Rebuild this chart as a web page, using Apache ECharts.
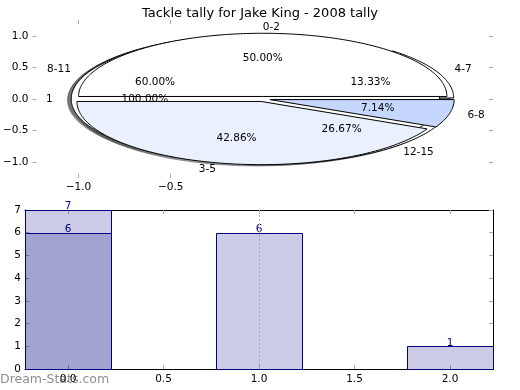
<!DOCTYPE html>
<html><head><meta charset="utf-8">
<script src="https://cdn.jsdelivr.net/npm/echarts@6/dist/echarts.min.js"></script>
<style>html,body{margin:0;padding:0;background:#fff}#c{width:520px;height:390px}</style>
</head><body><div id="c"></div>
<script>
// ---------- data ----------
const chartTitle = 'Tackle tally for Jake King - 2008 tally';
const watermark = 'Dream-Stats.com';
const pieALabels = ['1'];
const pieAValues = [1];
const pieCLabels = ['4-7', '8-11', '12-15'];
const pieCValues = [2, 9, 4];
const pieBLabels = ['0-2', '3-5', '6-8'];
const pieBValues = [7, 6, 1];
const pieXTicks = [-1.0, -0.5];
const pieYTicks = [-1.0, -0.5, 0.0, 0.5, 1.0];
const barX = [0, 1, 2];
const barTally = [7, 6, 1];
const barX2 = [0];
const barTally2 = [6];
const barXTicks = [0, 0.5, 1.0, 1.5, 2.0];
const barYTicks = [0, 1, 2, 3, 4, 5, 6, 7];
const markX = [1.0];

// ---------- style ----------
const FONT = 'DejaVu Sans';
const FS = 10.5;
const pieAColors = ['#FFFFFF'];
const pieCColors = ['#FFFFFF', '#FFFFFF', '#FFFFFF'];
const pieBColors = ['#FFFFFF', '#EAF0FE', '#C5D7FC'];
const EXPLODE = 0.04, R = 1, PCTD = 0.6, LABD = 1.1, SHX = -0.02, SHY = -0.02;
const BAR_HALF = 0.225;

function buildPie(labels, values, colors) {
  const tot = values.reduce((a, b) => a + b, 0);
  let t = 0;
  return values.map((v, i) => {
    const t1 = t, t2 = t + 360 * v / tot; t = t2;
    const tm = (t1 + t2) / 2 * Math.PI / 180;
    return { t1, t2, tm, full: Math.abs(t2 - t1 - 360) < 1e-9,
      cx: EXPLODE * Math.cos(tm), cy: EXPLODE * Math.sin(tm),
      label: labels[i], pct: (100 * v / tot).toFixed(2) + '%', color: colors[i] };
  });
}
const wedges = [].concat(
  buildPie(pieCLabels, pieCValues, pieCColors),
  buildPie(pieALabels, pieAValues, pieAColors),
  buildPie(pieBLabels, pieBValues, pieBColors)
);
function wedgePts(api, w, dx, dy) {
  const pts = [];
  if (!w.full) pts.push(api.coord([w.cx + dx, w.cy + dy]));
  const n = Math.max(4, Math.ceil(w.t2 - w.t1));
  for (let k = 0; k <= n; k++) {
    const a = (w.t1 + (w.t2 - w.t1) * k / n) * Math.PI / 180;
    pts.push(api.coord([w.cx + dx + R * Math.cos(a), w.cy + dy + R * Math.sin(a)]));
  }
  return pts;
}
function shadowColor(hex, a) {
  const r = parseInt(hex.substr(1, 2), 16), g = parseInt(hex.substr(3, 2), 16), b = parseInt(hex.substr(5, 2), 16);
  return 'rgba(' + Math.round(r * 0.3) + ',' + Math.round(g * 0.3) + ',' + Math.round(b * 0.3) + ',' + a + ')';
}
const minus = v => String(v.toFixed(1)).replace('-', '\u2212');
const wedgeData = wedges.map(w => [w.cx, w.cy]);

const tickStyle = { inside: true, length: 4, lineStyle: { color: '#a8a8a8', width: 1 } };
const labelStyle = { color: '#000', fontSize: FS, fontFamily: FONT };
const hiddenLine = { show: false, onZero: false };
const frameLine = { show: true, onZero: false, lineStyle: { color: '#000', width: 1 } };

const chart = echarts.init(document.getElementById('c'), null, { renderer: 'canvas' });
chart.setOption({
  animation: false,
  backgroundColor: '#fff',
  title: { text: chartTitle, left: 'center', top: 2,
    textStyle: { fontSize: 13, fontWeight: 'normal', fontFamily: FONT, color: '#000' } },
  graphic: [{ type: 'text', left: 0, top: 373, z: 0,
    style: { text: watermark, fill: '#8f8f8f', font: '12.5px "DejaVu Sans"' } }],
  grid: [
    { left: 25, right: 27, top: 20, bottom: 212 },
    { left: 25, right: 27, top: 210, bottom: 21 }
  ],
  xAxis: [
    { gridIndex: 0, type: 'value', min: -1.25, max: 1.25, position: 'bottom',
      axisLine: hiddenLine, splitLine: { show: false },
      axisTick: Object.assign({ customValues: pieXTicks }, tickStyle),
      axisLabel: Object.assign({ customValues: pieXTicks, margin: 4, formatter: minus }, labelStyle) },
    { gridIndex: 0, type: 'value', min: -1.25, max: 1.25, position: 'top',
      axisLine: hiddenLine, splitLine: { show: false },
      axisTick: Object.assign({ customValues: pieXTicks }, tickStyle),
      axisLabel: { show: false } },
    { gridIndex: 1, type: 'value', min: -0.225, max: 2.225, position: 'bottom',
      axisLine: frameLine, splitLine: { show: false },
      axisTick: Object.assign({ customValues: barXTicks }, tickStyle),
      axisLabel: Object.assign({ customValues: barXTicks, margin: 5, formatter: v => v.toFixed(1) }, labelStyle) },
    { gridIndex: 1, type: 'value', min: -0.225, max: 2.225, position: 'top',
      axisLine: frameLine, splitLine: { show: false },
      axisTick: Object.assign({ customValues: barXTicks }, tickStyle),
      axisLabel: { show: false } }
  ],
  yAxis: [
    { gridIndex: 0, type: 'value', min: -1.25, max: 1.25, position: 'left',
      axisLine: hiddenLine, splitLine: { show: false },
      axisTick: Object.assign({ customValues: pieYTicks }, tickStyle),
      axisLabel: Object.assign({ customValues: pieYTicks, margin: 4, formatter: minus }, labelStyle) },
    { gridIndex: 0, type: 'value', min: -1.25, max: 1.25, position: 'right',
      axisLine: hiddenLine, splitLine: { show: false },
      axisTick: Object.assign({ customValues: pieYTicks }, tickStyle),
      axisLabel: { show: false } },
    { gridIndex: 1, type: 'value', min: 0, max: 7, position: 'left',
      axisLine: frameLine, splitLine: { show: false },
      axisTick: Object.assign({ customValues: barYTicks }, tickStyle),
      axisLabel: Object.assign({ customValues: barYTicks, margin: 4 }, labelStyle) },
    { gridIndex: 1, type: 'value', min: 0, max: 7, position: 'right',
      axisLine: frameLine, splitLine: { show: false },
      axisTick: Object.assign({ customValues: barYTicks }, tickStyle),
      axisLabel: { show: false } }
  ],
  series: [
    { type: 'custom', name: 'shadows', xAxisIndex: 0, yAxisIndex: 0, z: 2, silent: true,
      data: wedgeData,
      renderItem: (params, api) => {
        const w = wedges[params.dataIndex];
        return { type: 'polygon', shape: { points: wedgePts(api, w, SHX, SHY) },
          style: { fill: shadowColor(w.color, 0.5), stroke: shadowColor(w.color, 0.5), lineWidth: 1 } };
      } },
    { type: 'custom', name: 'wedges', xAxisIndex: 0, yAxisIndex: 0, z: 3, silent: true,
      data: wedgeData,
      renderItem: (params, api) => {
        const w = wedges[params.dataIndex];
        return { type: 'polygon', shape: { points: wedgePts(api, w, 0, 0) },
          style: { fill: w.color, stroke: '#000', lineWidth: 1 } };
      } },
    { type: 'custom', name: 'pielabels', xAxisIndex: 0, yAxisIndex: 0, z: 4, silent: true,
      data: wedgeData,
      renderItem: (params, api) => {
        const w = wedges[params.dataIndex];
        const cx = Math.cos(w.tm), sy = Math.sin(w.tm);
        const lp = api.coord([w.cx + LABD * R * cx, w.cy + LABD * R * sy]);
        const pp = api.coord([w.cx + PCTD * R * cx, w.cy + PCTD * R * sy]);
        return { type: 'group', children: [
          { type: 'text', x: lp[0], y: lp[1], style: { text: w.label, fill: '#000', fontSize: FS, fontFamily: FONT,
            textAlign: cx > 0 ? 'left' : 'right', textVerticalAlign: 'middle' } },
          { type: 'text', x: pp[0], y: pp[1], style: { text: w.pct, fill: '#000', fontSize: FS, fontFamily: FONT,
            textAlign: 'center', textVerticalAlign: 'middle' } }
        ] };
      } },
    { type: 'custom', name: 'tally', xAxisIndex: 2, yAxisIndex: 2, z: 3, silent: true,
      data: barX.map((x, i) => [x, barTally[i]]),
      renderItem: (params, api) => {
        const x = api.value(0), v = api.value(1);
        const p1 = api.coord([x - BAR_HALF, v]), p2 = api.coord([x + BAR_HALF, 0]);
        return { type: 'group', children: [
          { type: 'rect', shape: { x: Math.round(p1[0]) + 0.5, y: Math.round(p1[1]) + 0.5, width: Math.round(p2[0] - p1[0]), height: Math.round(p2[1] - p1[1]) },
            style: { fill: 'rgba(0,0,128,0.2)', stroke: '#000080', lineWidth: 1 } },
          { type: 'text', x: (p1[0] + p2[0]) / 2, y: p1[1] + 2, style: { text: String(v), fill: '#000080', fontSize: FS, fontFamily: FONT,
            textAlign: 'center', textVerticalAlign: 'bottom' } }
        ] };
      },
      markLine: { silent: true, symbol: 'none', label: { show: false },
        lineStyle: { color: '#aaaaaa', type: [2, 2], width: 1 },
        data: markX.map(x => ({ xAxis: x })) } },
    { type: 'custom', name: 'tally2', xAxisIndex: 2, yAxisIndex: 2, z: 4, silent: true,
      data: barX2.map((x, i) => [x, barTally2[i]]),
      renderItem: (params, api) => {
        const x = api.value(0), v = api.value(1);
        const p1 = api.coord([x - BAR_HALF, v]), p2 = api.coord([x + BAR_HALF, 0]);
        return { type: 'group', children: [
          { type: 'rect', shape: { x: Math.round(p1[0]) + 0.5, y: Math.round(p1[1]) + 0.5, width: Math.round(p2[0] - p1[0]), height: Math.round(p2[1] - p1[1]) },
            style: { fill: 'rgba(0,0,128,0.2)', stroke: '#000080', lineWidth: 1 } },
          { type: 'text', x: (p1[0] + p2[0]) / 2, y: p1[1] + 2, style: { text: String(v), fill: '#000080', fontSize: FS, fontFamily: FONT,
            textAlign: 'center', textVerticalAlign: 'bottom' } }
        ] };
      } }
  ]
});
</script>
</body></html>
